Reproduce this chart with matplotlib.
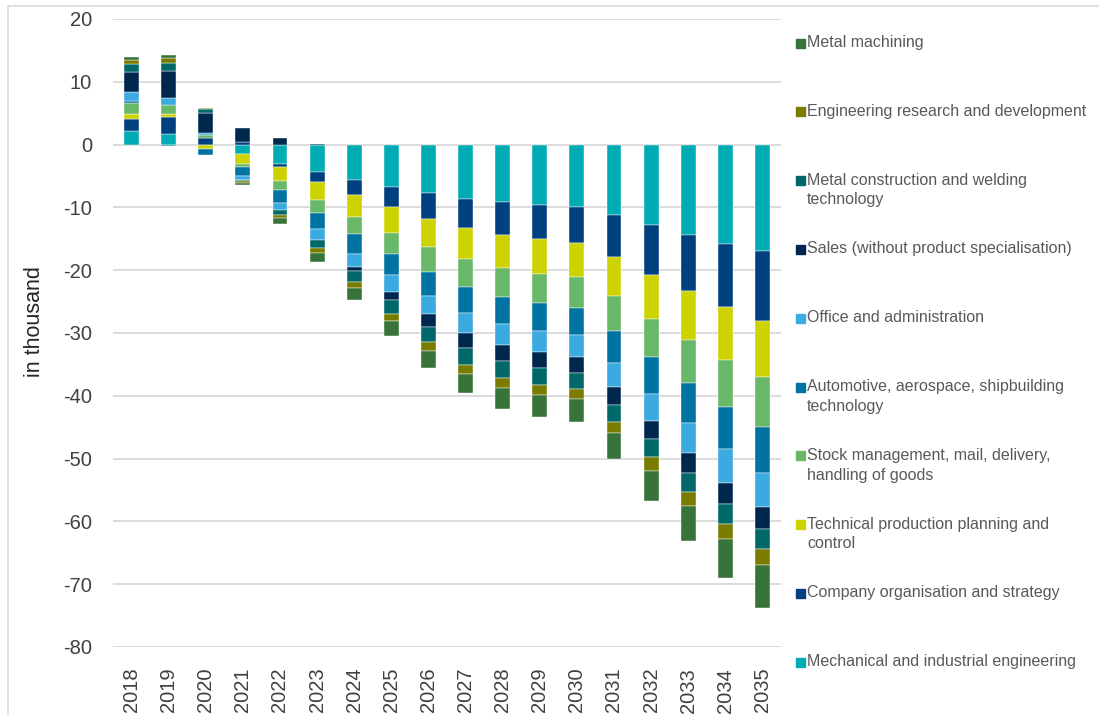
import numpy as np
import matplotlib.pyplot as plt
from matplotlib.patches import Rectangle

plt.rcParams['font.family'] = ['Liberation Sans', 'DejaVu Sans']
plt.rcParams['axes.unicode_minus'] = False

years = [str(y) for y in range(2018, 2036)]

# values in thousand
mechanical = [2.1, 1.7, 0.0, -1.55, -3.1, -4.4, -5.6, -6.7, -7.7, -8.6, -9.1, -9.55, -9.9, -11.2, -12.85, -14.4, -15.8, -17.0]
company = [1.9, 2.7, 1.1, 0.4, -0.5, -1.5, -2.5, -3.25, -4.1, -4.7, -5.3, -5.55, -5.75, -6.7, -7.85, -8.9, -10.0, -11.05]
technical = [0.9, 0.4, -0.65, -1.5, -2.25, -3.0, -3.5, -4.1, -4.55, -4.95, -5.2, -5.45, -5.5, -6.2, -7.0, -7.75, -8.5, -8.95]
stock = [1.8, 1.55, 0.5, -0.5, -1.3, -2.0, -2.7, -3.35, -4.0, -4.4, -4.7, -4.7, -4.8, -5.65, -6.2, -6.95, -7.45, -7.9]
automotive = [0.3, -0.15, -0.95, -1.5, -2.1, -2.55, -3.1, -3.4, -3.75, -4.1, -4.2, -4.4, -4.4, -4.95, -5.75, -6.35, -6.8, -7.35]
office = [1.4, 1.1, 0.2, -0.6, -1.2, -1.75, -2.1, -2.6, -2.95, -3.2, -3.4, -3.45, -3.55, -3.95, -4.3, -4.75, -5.3, -5.45]
sales = [3.2, 4.3, 3.3, 2.2, 1.0, 0.15, -0.65, -1.4, -2.0, -2.45, -2.5, -2.55, -2.4, -2.8, -3.0, -3.15, -3.4, -3.45]
metal_constr = [1.3, 1.3, 0.5, -0.2, -0.75, -1.3, -1.75, -2.1, -2.4, -2.7, -2.8, -2.7, -2.6, -2.65, -2.8, -3.05, -3.1, -3.2]
engineering = [0.6, 0.7, 0.2, -0.25, -0.5, -0.75, -0.95, -1.2, -1.35, -1.45, -1.55, -1.55, -1.6, -1.8, -2.2, -2.3, -2.5, -2.6]
machining = [0.4, 0.5, 0.0, -0.4, -0.9, -1.45, -1.9, -2.4, -2.8, -3.05, -3.3, -3.5, -3.6, -4.2, -4.85, -5.6, -6.2, -6.8]

series = [mechanical, company, technical, stock, automotive, office, sales, metal_constr, engineering, machining]
labels = ["Mechanical and industrial engineering", "Company organisation and strategy",
          "Technical production planning and\ncontrol", "Stock management, mail, delivery,\nhandling of goods",
          "Automotive, aerospace, shipbuilding\ntechnology", "Office and administration",
          "Sales (without product specialisation)", "Metal construction and welding\ntechnology",
          "Engineering research and development", "Metal machining"]
colors = ["#00ACB3", "#00407F", "#CCD300", "#69B869", "#0073A2", "#3AAAE0", "#00284F", "#006868", "#7A7C00", "#38743A"]

fig = plt.figure(figsize=(10.99, 7.15), dpi=100)
ax = fig.add_axes([113/1099, 1-647/715, 668/1099, 628/715])

x = np.arange(len(years))
pos_bottom = np.zeros(len(years))
neg_bottom = np.zeros(len(years))
for vals, c in zip(series, colors):
    v = np.array(vals)
    bottom = np.where(v >= 0, pos_bottom, neg_bottom)
    ax.bar(x, v, 0.4, bottom=bottom, color=c, edgecolor='white', linewidth=0.3, zorder=3)
    pos_bottom += np.where(v > 0, v, 0)
    neg_bottom += np.where(v < 0, v, 0)

ax.set_xlim(-0.5, len(years) - 0.5)
ax.set_ylim(-80, 20)
ax.set_yticks(range(-80, 21, 10))
ax.set_xticks(x)
ax.set_xticklabels(years, rotation=90)
ax.tick_params(axis='both', length=0, labelsize=14.5, labelcolor='#404040')
ax.tick_params(axis='y', pad=15)
ax.tick_params(axis='x', pad=15)
ax.grid(axis='y', color='#d9d9d9', linewidth=1.3, zorder=0)
for s in ax.spines.values():
    s.set_visible(False)
ax.set_ylabel("in thousand", fontsize=15.5, color='#262626')
ax.yaxis.set_label_coords(-0.102, 0.519)

# legend drawn by hand, evenly spread down the right side
for i, k in enumerate(range(len(series) - 1, -1, -1)):
    ytop = 43 + i * 68.8
    fig.patches.append(Rectangle((796/1099, 1-(ytop+4.5)/715), 9/1099, 9/715,
                                 transform=fig.transFigure, color=colors[k]))
    fig.text(807/1099, 1-(ytop-8)/715, labels[k], fontsize=11.5, color='#595959',
             va='top', ha='left', linespacing=1.4)

# light chart-area frame
fig.patches.append(Rectangle((8/1099, -0.1), 1.2, 1.1 - 6/715, transform=fig.transFigure,
                             fill=False, edgecolor='#d9d9d9', linewidth=1.2))

fig.savefig("out.png", dpi=100)
